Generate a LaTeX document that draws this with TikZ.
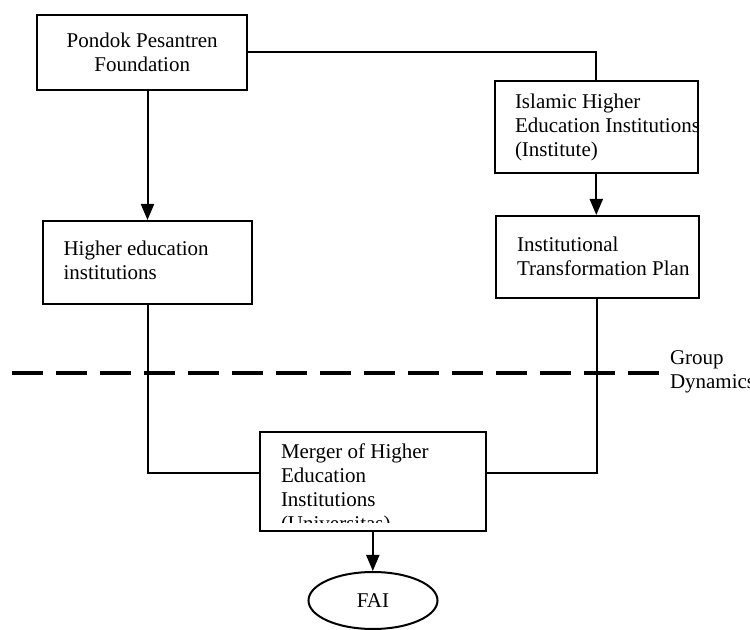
\documentclass[tikz,border=0pt]{standalone}
\usepackage{fontspec}
\setmainfont{Liberation Serif}
\usetikzlibrary{arrows.meta,shapes.geometric}
\tikzset{>={Triangle[width=6.5pt,length=8pt]}}
\tikzset{
  box/.style={draw, line width=1pt, inner sep=0pt},
  lbl/.style={inner sep=0pt, align=left, font=\fontsize{10.5}{12}\selectfont}
}

\begin{document}
\begin{tikzpicture}[x=0.5pt, y=-0.5pt, line width=1pt]
    \useasboundingbox (0,0) rectangle (750,630);
    \node[box, lbl, align=center, minimum width=104.75pt, minimum height=37.5pt] (found) at (142.2,52.5) {Pondok Pesantren\\Foundation};
    \node[box, minimum width=101.3pt, minimum height=46.2pt] (islamic) at (596.3,126.9) {};
    \node[box, minimum width=101.25pt, minimum height=41pt] (plan) at (597.3,257) {};
    \node[box, minimum width=104.5pt, minimum height=41.5pt] (hei) at (147.5,262.5) {};
    \node[box, minimum width=112.8pt, minimum height=49.7pt] (merger) at (372.8,481.4) {};
    \node[box, ellipse, lbl, align=center, minimum width=64.5pt, minimum height=28.5pt] (fai) at (373,600.5) {FAI};
    % texts in the boxes, cut by the frames
    \begin{scope}
        \clip (islamic.south west) rectangle (islamic.north east);
        \node[lbl, anchor=base west] (islamicT) at ([shift={(20,76.6)}]islamic.north west) {Islamic Higher\\Education Institutions\\(Institute)};
    \end{scope}
    \node[lbl, anchor=base west] (planT) at ([shift={(21,60.3)}]plan.north west) {Institutional\\Transformation Plan};
    \node[lbl, anchor=base west] (heiT) at ([shift={(20.5,59.7)}]hei.north west) {Higher education\\institutions};
    \begin{scope}
        \clip ([yshift=5pt]merger.south west) rectangle (merger.north east);
        \node[lbl, anchor=base west] (mergerT) at ([shift={(21,99.6)}]merger.north west) {Merger of Higher\\Education\\Institutions\\(Universitas)};
    \end{scope}
    \node[lbl, anchor=base west] (group) at (669,389) {Group\\Dynamics};
    % group boundary
    \coordinate (dashL) at (12,373);
    \coordinate (dashR) at (663,373);
    \draw[line width=2pt, dash pattern=on 15.5pt off 6.5pt] (dashL) -- (dashR);
    % connectors
    \draw (found.east) -| (islamic.north);
    \draw[->] (found.south -| hei.north) -- (hei.north);
    \draw[->] (islamic.south) -- (islamic.south |- plan.north);
    \draw (hei.south) |- ([yshift=4pt]merger.west);
    \draw (plan.south) |- ([yshift=4pt]merger.east);
    \draw[->] (merger.south) -- (merger.south |- fai.north);
\end{tikzpicture}
\end{document}
